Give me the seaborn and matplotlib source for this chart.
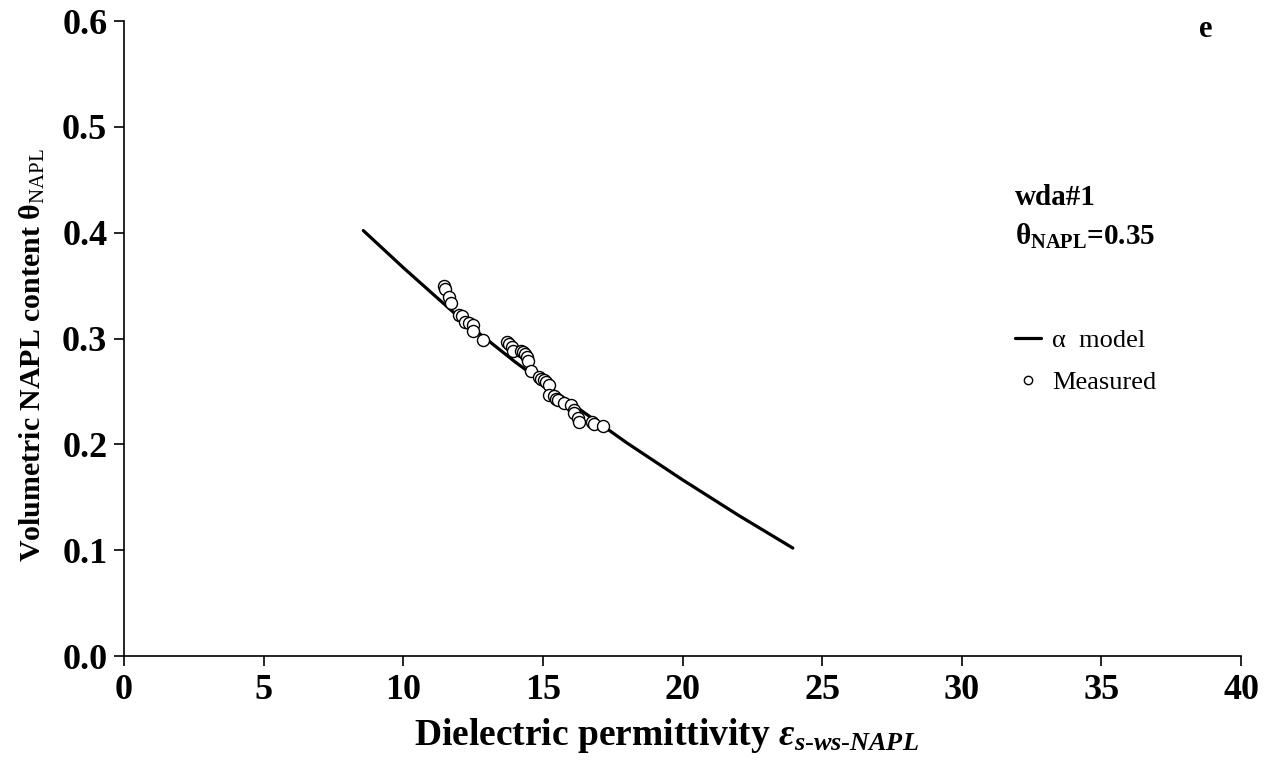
import matplotlib
matplotlib.use("Agg")
import matplotlib.pyplot as plt
import seaborn as sns
import pandas as pd
from matplotlib.lines import Line2D

# ---- data ----
model_eps = [8.57, 10.0, 12.0, 14.0, 16.0, 18.0, 20.0, 22.0, 23.95]
model_theta = [0.402, 0.367, 0.320, 0.278, 0.239, 0.2015, 0.1665, 0.133, 0.102]

meas_eps = [11.45, 11.50, 11.65, 11.70, 12.00, 12.10, 12.20, 12.35, 12.48, 12.50,
            12.85, 13.72, 13.80, 13.88, 13.93, 14.20, 14.28, 14.35, 14.42, 14.45,
            14.57, 14.87, 14.95, 15.05, 15.12, 15.22, 15.23, 15.40, 15.47, 15.55,
            15.77, 16.00, 16.10, 16.13, 16.25, 16.28, 16.75, 16.82, 17.15]
meas_theta = [0.350, 0.347, 0.339, 0.334, 0.322, 0.321, 0.316, 0.315, 0.313, 0.307,
              0.299, 0.297, 0.295, 0.292, 0.288, 0.288, 0.287, 0.285, 0.283, 0.279,
              0.269, 0.264, 0.262, 0.261, 0.259, 0.256, 0.247, 0.246, 0.243, 0.242,
              0.239, 0.237, 0.232, 0.230, 0.225, 0.221, 0.221, 0.219, 0.217]

x_ticks = [0, 5, 10, 15, 20, 25, 30, 35, 40]
y_ticks = [0.0, 0.1, 0.2, 0.3, 0.4, 0.5, 0.6]

sns.set_style("ticks")
plt.rcParams["font.family"] = ["Liberation Serif", "DejaVu Serif"]
plt.rcParams["mathtext.fontset"] = "custom"
plt.rcParams["mathtext.rm"] = "Liberation Serif"
plt.rcParams["mathtext.it"] = "Liberation Serif:italic"
plt.rcParams["mathtext.bf"] = "Liberation Serif:bold"
plt.rcParams["mathtext.bfit"] = "Liberation Serif:italic:bold"
for key in ["text.color", "axes.labelcolor", "xtick.color", "ytick.color",
            "axes.edgecolor"]:
    plt.rcParams[key] = "black"

fig = plt.figure(figsize=(12.69, 7.62), dpi=100)
ax = fig.add_axes([0.0977, 0.1391, 0.8803, 0.8333])

df_model = pd.DataFrame({"eps": model_eps, "theta": model_theta})
df_meas = pd.DataFrame({"eps": meas_eps, "theta": meas_theta})

sns.lineplot(data=df_model, x="eps", y="theta", ax=ax, color="black",
             linewidth=2.3, sort=True, estimator=None)
sns.scatterplot(data=df_meas, x="eps", y="theta", ax=ax, s=75,
                facecolor="white", edgecolor="black", linewidth=1.0, zorder=3)

ax.set_xlim(0, 40)
ax.set_ylim(0, 0.6)
ax.set_xticks(x_ticks)
ax.set_yticks(y_ticks)
ax.set_xticklabels([str(t) for t in x_ticks])
ax.set_yticklabels([f"{t:.1f}" for t in y_ticks])
for lbl in ax.get_xticklabels() + ax.get_yticklabels():
    lbl.set_fontweight("bold")
    lbl.set_fontsize(26)
ax.tick_params(axis="both", direction="out", length=7, width=1.2, color="black")
ax.tick_params(axis="x", pad=6)
ax.tick_params(axis="y", pad=5)

sns.despine(ax=ax)
for sp in ["left", "bottom"]:
    ax.spines[sp].set_linewidth(1.2)
    ax.spines[sp].set_color("black")

ax.set_xlabel(r"Dielectric permittivity $\mathbfit{\varepsilon_{s\text{-}ws\text{-}NAPL}}$",
              fontsize=27, fontweight="bold")
ax.xaxis.set_label_coords(0.486, -0.140)
ax.xaxis.label.set_verticalalignment("baseline")

ax.set_ylabel(r"Volumetric NAPL content θ$_{\mathrm{NAPL}}$",
              fontsize=21.5, fontweight="bold")
ax.yaxis.set_label_coords(-0.0689, 0.474)

ax.text(38.96, 0.585, "e", fontsize=22, fontweight="bold", ha="right", va="baseline")
ax.text(31.9, 0.4262, "wda#1", fontsize=21, fontweight="bold", ha="left", va="baseline")
ax.text(31.9, 0.3884, r"θ$_{\mathbf{NAPL}}$=0.35", fontsize=21, fontweight="bold",
        ha="left", va="baseline")

handles = [Line2D([0], [0], color="black", linewidth=2.3),
           Line2D([0], [0], marker="o", linestyle="none", markersize=6,
                  markerfacecolor="white", markeredgecolor="black", markeredgewidth=1.0)]
ax.legend(handles, ["α  model", "Measured"], loc="upper left",
          bbox_to_anchor=(0.7977, 0.515), frameon=False, fontsize=19,
          handlelength=1.0, handletextpad=0.4, labelspacing=0.7,
          borderpad=0, borderaxespad=0)

fig.savefig("out.png", dpi=100)
